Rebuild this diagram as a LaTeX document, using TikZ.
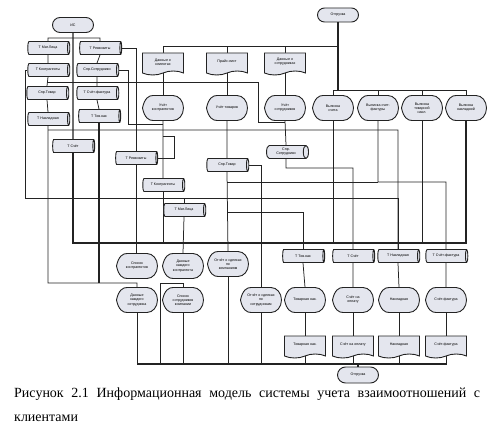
\documentclass[tikz,border=0pt]{standalone}
\usepackage{fontspec}
\setmainfont{Liberation Serif}
\newfontfamily\lblfont{Liberation Sans}
\usetikzlibrary{shapes.geometric}
\usetikzlibrary{shapes.misc}
\usetikzlibrary{shapes.symbols}
\usetikzlibrary{calc}
\pgfdeclarelayer{bg}
\pgfsetlayers{bg,main}
\definecolor{shapefill}{RGB}{228,230,238}
\definecolor{wirecol}{RGB}{35,35,35}
\newcommand\lblsize{\lblfont\fontsize{3.6}{4.2}\selectfont}
\tikzset{
base/.style={draw=wirecol,line width=0.9pt,fill=shapefill,inner sep=0pt,font=\lblsize,align=center},
term/.style={base,rounded rectangle,minimum width=41pt,minimum height=15pt},
dbase/.style={base,cylinder,shape aspect=0.7,minimum height=42pt,minimum width=13pt},
doc/.style={base,tape,tape bend top=none,tape bend height=4pt,minimum width=41pt,minimum height=22pt},
disptext/.style={inner sep=0pt,minimum width=41pt,minimum height=25pt,font=\lblsize,align=center},
displine/.style={draw=wirecol,line width=0.9pt,fill=shapefill},
wire/.style={draw=wirecol,line width=0.75pt},
bus/.style={wire,line width=1.3pt}
}
\newcommand\dispnode[3]{%
\draw[displine] ($(#2)+(-20.5,0)$) .. controls +(2,-10) and +(-4,0) .. ($(#2)+(-10,-12.5)$) -- ($(#2)+(10,-12.5)$) arc[start angle=-90,end angle=90,x radius=10.5,y radius=12.5] -- ($(#2)+(-10,12.5)$) .. controls +(-4,0) and +(2,10) .. ($(#2)+(-20.5,0)$) -- cycle;
\node[disptext] (#1) at (#2) {#3};
}

\begin{document}
\begin{tikzpicture}[x=1pt,y=-1pt]
\useasboundingbox (0,0) rectangle (500,427);

\node[term] (is) at (73,25) {ИС};
\node[term,minimum height=14pt] (otgA) at (338,15) {Отгрузка};
\node[term,minimum height=16pt] (otgB) at (358,375) {Отгрузка};

\node[dbase] (tml1) at (48,48) {Т Мат.Лица};
\node[dbase] (trk1) at (100,48) {Т Реквизиты};
\node[dbase] (tkn1) at (48,70) {Т Контрагенты};
\node[dbase] (sps1) at (97,70) {Спр.Сотрудники};
\node[dbase] (spt1) at (47,93) {Спр.Товар};
\node[dbase] (tsf1) at (97,93) {Т Счёт-фактура};
\node[dbase] (tnk1) at (48,119) {Т Накладная};
\node[dbase] (ttn1) at (99,116) {Т Тов.нак};
\node[dbase] (tsc1) at (73,146) {Т Счёт};
\node[dbase] (trk2) at (136,158) {Т Реквизиты};
\node[dbase] (tkn2) at (163,185) {Т Контрагенты};
\node[dbase] (tml2) at (184,210) {Т Мат.Лица};
\node[dbase] (spt2) at (227,165) {Спр.Товар};
\node[dbase] (sps2) at (286,152) {Спр.\\Сотрудники};
\node[dbase] (ttn2) at (303,256) {Т Тов.нак};
\node[dbase] (tsc2) at (353,256) {Т Счёт};
\node[dbase] (tnk2) at (398,256) {Т Накладная};
\node[dbase] (tsf2) at (446,256) {Т Счёт-фактура};

\node[doc] (dkl) at (163,62) {Данные о\\клиентах};
\node[doc] (prl) at (227,62) {Прайс-лист};
\node[doc] (dso) at (285,62) {Данные о\\сотрудниках};
\node[doc] (dtn) at (305,345) {Товарная нак.};
\node[doc] (dsc) at (353,345) {Счёт на оплату};
\node[doc] (dnk) at (399,345) {Накладная};
\node[doc] (dsf) at (446,345) {Счёт-фактура};

\dispnode{ukn}{163,108}{Учёт\\контрагентов}
\dispnode{utv}{227,108}{Учёт товаров}
\dispnode{uso}{285,108}{Учёт\\сотрудников}
\dispnode{vsc}{333,108}{Выписка\\счета}
\dispnode{vsf}{378,108}{Выписка счет-\\фактуры}
\dispnode{vtn}{422,108}{Выписка\\товарной\\накл.}
\dispnode{vnk}{466,108}{Выписка\\накладной}
\dispnode{skn}{137,266}{Список\\контрагентов}
\dispnode{ddk}{183,266}{Данные\\каждого\\контрагента}
\dispnode{osk}{228,264}{Отчёт о сделках\\по\\компаниям}
\dispnode{dzs}{137,300}{Данные\\каждого\\сотрудника}
\dispnode{sso}{183,300}{Список\\сотрудников\\компании}
\dispnode{oss}{261,300}{Отчёт о сделках\\по\\сотрудникам}
\dispnode{ftn}{305,300}{Товарная нак.}
\dispnode{fsc}{353,300}{Счёт на\\оплату}
\dispnode{fnk}{399,300}{Накладная}
\dispnode{fsf}{446,300}{Счёт-фактура}

\node[anchor=base west,inner sep=0pt,font=\fontsize{14}{24}\selectfont] (cap1) at (14,397) {\makebox[466pt][s]{Рисунок 2.1 Информационная модель системы учета взаимоотношений с}};
\node[anchor=base west,inner sep=0pt,font=\fontsize{14}{24}\selectfont] (cap2) at (14,421) {клиентами};

\coordinate (jT1) at (163,46);
\coordinate (jT2) at (338,46);
\coordinate (jR1) at (333,90);
\coordinate (jR2) at (466,90);
\coordinate (jL1) at (48,38);
\coordinate (jL2) at (100,38);
\coordinate (jW) at (25,198);
\coordinate (jA) at (47,82);
\coordinate (jC) at (258,122);
\coordinate (jD) at (128,124);
\coordinate (jK) at (174,136);
\coordinate (jS) at (353,168);
\coordinate (jQ) at (0,212);
\coordinate (jN) at (160,283);
\coordinate (h130a) at (48,130);
\coordinate (h130b) at (398,130);
\coordinate (h243a) at (73,243);
\coordinate (h243b) at (466,243);
\coordinate (h283a) at (48,283);
\coordinate (h283b) at (137,283);
\coordinate (h182a) at (227,182);
\coordinate (h182b) at (446,182);
\coordinate (h364a) at (137,364);
\coordinate (h364b) at (447,364);

\begin{pgfonlayer}{bg}
\fill[white] (0,0) rectangle (500,427);

\draw[bus] (otgA.south) -- (otgA.south |- jR1);
\draw[wire] (jT1) -- (jT2);
\draw[wire] (dkl.north) -- (dkl.north |- jT1);
\draw[wire] (prl.north) -- (prl.north |- jT1);
\draw[wire] (dso.north) -- (dso.north |- jT1);
\draw[wire] (jR1) -- (jR2);
\foreach \n in {vsc,vsf,vtn,vnk}
  \draw[wire] (\n.north) -- (\n.north |- jR1);
\draw[wire] (dkl.south) -- (ukn.north);
\draw[wire] (prl.south) -- (utv.north);
\draw[wire] (dso.south) -- (uso.north);

\draw[bus] (is.south) -- (tsc1.north);
\draw[wire] (tml1.north) -- (jL1) -- (jL2) -- (trk1.north);
\draw[wire] (tml1.south) -- (tkn1.north);
\draw[wire] (tkn1.south) -- (spt1.north);
\draw[wire] (spt1.south) -- (tnk1.north);
\draw[wire] (trk1.south) -- (sps1.north);
\draw[wire] (sps1.south) -- (tsf1.north);
\draw[wire] (tsf1.south) -- (ttn1.north);
\draw[wire] (tkn1.west) -| (jW) -| (tnk2.north);
\draw[wire] (jA) -| (jC) -- (jC -| uso.south);
\draw[wire] (trk1.east) -| (trk2.north);
\draw[wire] (sps1.east) -| (jD) -- (jD -| ukn.south);
\draw[wire] (tnk1.south) -- (h283a) -- (h283b) -- (dzs.north);
\draw[wire] (h130a) -- (h130b) -- (tnk2.north);
\draw[bus] (tsc1.south) |- (h243b) -- (vnk.south);
\draw[bus] (ttn1.south) -- (ttn1.south |- h283a);

\draw[wire] (trk2.south) -- (trk2.south |- skn.north);
\draw[wire] (ukn.south) -- (tkn2.north);
\draw[wire] (tkn2.south) -- (tkn2.south |- h243a);
\draw[wire] (trk2.east) -| (jK) -- (jK -| ukn.south);
\draw[wire] (tml2.north) -- (tml2.north |- jW);
\draw[wire] (tml2.south) -- (ddk.north);
\draw[wire] (utv.south) -- (spt2.north);
\draw[wire] (spt2.south) -- (osk.north);
\draw[wire] (spt2.east) -| (oss.north);
\draw[wire] (spt2.south |- jQ) -| (ttn2.north);
\draw[wire] (uso.south) -- (sps2.north);
\draw[wire] (sps2.south) |- (jS) -- (tsc2.north);
\draw[wire] (vsc.south) -- (vsc.south |- h243a);
\draw[wire] (h182a) -- (vsf.south |- h182a);
\draw[wire] (vsf.south) |- (h182b) -- (tsf2.north);
\draw[wire] (vtn.south) -- (vtn.south |- h243a);

\draw[wire] (ttn2.south) -- (ftn.north);
\draw[wire] (tsc2.south) -- (fsc.north);
\draw[wire] (tnk2.south) -- (fnk.north);
\draw[wire] (tsf2.south) -- (fsf.north);
\draw[wire] (ftn.south) -- (dtn.north);
\draw[wire] (fsc.south) -- (dsc.north);
\draw[wire] (fnk.south) -- (dnk.north);
\draw[wire] (fsf.south) -- (dsf.north);

\draw[bus] (h364a) -- (h364b);
\draw[wire] (dzs.south) -- (dzs.south |- h364a);
\draw[wire] (jN |- h364a) -- (jN) -| (sso.north);
\draw[wire] (sso.south) -- (sso.south |- h364a);
\draw[wire] (osk.south) -- (osk.south |- h364a);
\draw[wire] (oss.south) -- (oss.south |- h364a);
\foreach \n in {dtn,dsc,dnk,dsf}
  \draw[wire] (\n.south) -- (\n.south |- h364a);
\draw[bus] (otgB.north) -- (otgB.north |- h364a);
\end{pgfonlayer}

\end{tikzpicture}
\end{document}
